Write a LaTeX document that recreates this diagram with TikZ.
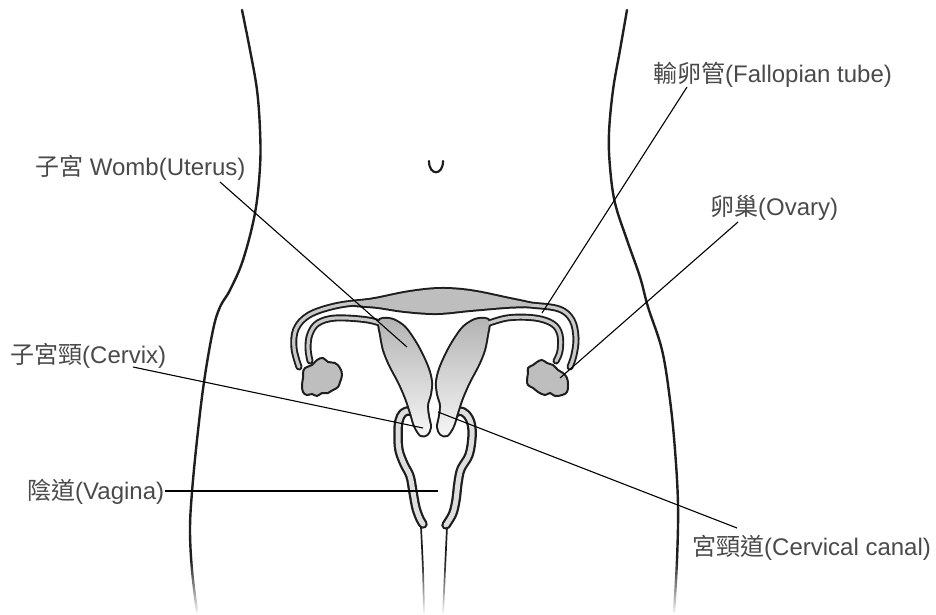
\documentclass[tikz,border=0pt]{standalone}
\usepackage{fontspec}
\setmainfont{Liberation Sans}
\newfontfamily\cjk{Noto Sans CJK TC}
\usetikzlibrary{fadings}
\definecolor{ink}{HTML}{1E1E1E}
\definecolor{txt}{HTML}{4A4A4A}
\definecolor{tubegrey}{HTML}{C9C9C9}
\definecolor{organgrey}{HTML}{BEBEBE}
\definecolor{canalgrey}{HTML}{DEDEDE}
\definecolor{utertop}{HTML}{B4B4B4}
\definecolor{uterbot}{HTML}{F6F6F6}
\newcommand{\uterusLpath}{plot[smooth cycle, tension=0.55] coordinates {(379,322) (381,335) (384,350) (390,365) (399,382) (406,398) (411,413) (415,426) (421,435) (427,434) (430,427) (428,416) (427,405) (430,394) (431,382) (428,369) (421,353) (413,339) (404,327) (393,320) (383,319)}}
\newcommand{\outerTubePath}{plot[smooth, tension=0.6] coordinates {(299,367) (294,348) (296,329) (309,315) (335,306) (365,302) (400,300) (440,300) (480,301) (530,305) (559,309) (572,320) (576,338) (574,355) (570,367)}}
\newcommand{\innerTubeLPath}{plot[smooth, tension=0.6] coordinates {(388,326) (368,320) (336,318) (318,323) (310,334) (308,348) (310,361)}}
\newcommand{\innerTubeRPath}{plot[smooth, tension=0.6] coordinates {(481,326) (507,318) (535,318) (553,324) (560,335) (560,351) (556,361)}}
\newcommand{\lensPath}{plot[smooth cycle, tension=0.6] coordinates {(352,304) (380,298) (410,292) (440,289) (470,291) (505,298) (534,305) (505,307) (470,310) (437,313) (405,311) (378,307)}}
\begin{document}
\begin{tikzpicture}[x=1pt,y=-1pt,
  bodyline/.style={line width=2.4pt, draw=ink, line cap=round},
  leader/.style={line width=1.1pt, draw=black},
  lbl/.style={text=txt, font=\fontsize{24}{28}\selectfont, inner sep=0pt, anchor=base west},
  tubedark/.style={line width=7pt, draw=ink, line cap=round, line join=round},
  tubelight/.style={line width=3.2pt, draw=tubegrey, line cap=round, line join=round},
  canaldark/.style={line width=9.5pt, draw=ink, line cap=round, line join=round},
  canallight/.style={line width=5pt, draw=canalgrey, line cap=round, line join=round},
  organline/.style={line width=4pt, draw=ink, line join=round},
  thinline/.style={line width=1.7pt, draw=ink}]
\useasboundingbox (0,0) rectangle (936,614);
\fill[white] (0,0) rectangle (936,614);

% body outlines
\draw[bodyline] plot[smooth, tension=0.6] coordinates {(242,10) (250,50) (257,90) (260,130) (260,167) (255,213) (243,260) (230,290) (220,307) (213,330) (204,382) (197,440) (192,492) (190,530) (192,570) (197,612)};
\draw[bodyline] plot[smooth, tension=0.6] coordinates {(627,10) (620,50) (613,90) (609,133) (610,167) (615,203) (627,240) (640,277) (648,307) (662,350) (670,400) (675,450) (678,505) (677,560) (674,612)};

% navel
\draw[line width=2.2pt, draw=ink, line cap=round] (429,161) .. controls (429,176) and (443,176) .. (443,161);

% vaginal walls
\draw[canaldark] plot[smooth, tension=0.6] coordinates {(417,416) (410,411) (403,413) (399,421) (398,434) (399,450) (404,464) (410,476) (413,492) (416,508) (420,519) (423,524)};
\draw[canaldark] plot[smooth, tension=0.6] coordinates {(452,416) (459,411) (466,414) (471,423) (472,437) (469,455) (461,469) (458,483) (456,500) (453,513) (448,522) (446,525)};
\draw[canallight] plot[smooth, tension=0.6] coordinates {(417,416) (410,411) (403,413) (399,421) (398,434) (399,450) (404,464) (410,476) (413,492) (416,508) (420,519) (423,524)};
\draw[canallight] plot[smooth, tension=0.6] coordinates {(452,416) (459,411) (466,414) (471,423) (472,437) (469,455) (461,469) (458,483) (456,500) (453,513) (448,522) (446,525)};
\draw[thinline] plot[smooth] coordinates {(421,527) (423,570) (424,614)};
\draw[thinline] plot[smooth] coordinates {(447,527) (445,570) (443,614)};

% dark layer
\draw[tubedark] \outerTubePath;
\draw[tubedark] \innerTubeLPath;
\draw[tubedark] \innerTubeRPath;
\draw[organline] \lensPath;
\draw[organline] \uterusLpath;
\begin{scope}[xshift=868pt, xscale=-1]
\draw[organline] \uterusLpath;
\end{scope}
% light layer
\draw[tubelight] \outerTubePath;
\draw[tubelight] \innerTubeLPath;
\draw[tubelight] \innerTubeRPath;
\fill[organgrey] \lensPath;
\shade[top color=utertop, bottom color=uterbot] \uterusLpath;
\begin{scope}[xshift=868pt, xscale=-1]
\shade[top color=utertop, bottom color=uterbot] \uterusLpath;
\end{scope}

% ovaries
\draw[line width=2pt, draw=ink, fill=organgrey] plot[smooth cycle, tension=0.7] coordinates {(303,373) (305,368) (312,365) (317,360) (323,358) (328,362) (335,363) (340,368) (342,375) (340,382) (338,387) (333,390) (328,393) (322,393) (317,396) (312,394) (307,395) (303,392) (302,385) (303,378)};
\draw[line width=2pt, draw=ink, fill=organgrey] plot[smooth cycle, tension=0.7] coordinates {(528,368) (533,365) (537,362) (542,360) (547,363) (553,365) (558,370) (563,373) (567,378) (568,385) (567,392) (562,395) (555,396) (550,393) (545,395) (538,392) (533,388) (528,385) (527,380) (528,373)};

% fade at the bottom
\fill[white, path fading=north] (150,560) rectangle (720,615);

% labels
\node[lbl] (lbl-tube) at (653,82) {{\cjk 輸卵管}(Fallopian tube)};
\node[lbl] (lbl-ovary) at (710,215) {{\cjk 卵巢}(Ovary)};
\node[lbl] (lbl-womb) at (35,175) {{\cjk 子宮} Womb(Uterus)};
\node[lbl] (lbl-cervix) at (10,363) {{\cjk 子宮頸}(Cervix)};
\node[lbl] (lbl-vagina) at (27,499) {{\cjk 陰道}(Vagina)};
\node[lbl] (lbl-canal) at (692,555) {{\cjk 宮頸道}(Cervical canal)};

% leader end points
\coordinate (tube-a) at (687,87);   \coordinate (tube-b) at (542,313);
\coordinate (ovary-a) at (738,222); \coordinate (ovary-b) at (560,378);
\coordinate (womb-a) at (220,182);  \coordinate (womb-b) at (407,347);
\coordinate (cervix-a) at (133,367); \coordinate (cervix-b) at (423,428);
\coordinate (vagina-a) at (165,491); \coordinate (vagina-b) at (438,491);
\coordinate (canal-a) at (737,528); \coordinate (canal-b) at (438,412);

\draw[leader] (tube-a) -- (tube-b);
\draw[leader] (ovary-a) -- (ovary-b);
\draw[leader] (womb-a) -- (womb-b);
\draw[leader] (cervix-a) -- (cervix-b);
\draw[leader] (vagina-a) -- (vagina-b);
\draw[leader] (canal-a) -- (canal-b);
\end{tikzpicture}
\end{document}
